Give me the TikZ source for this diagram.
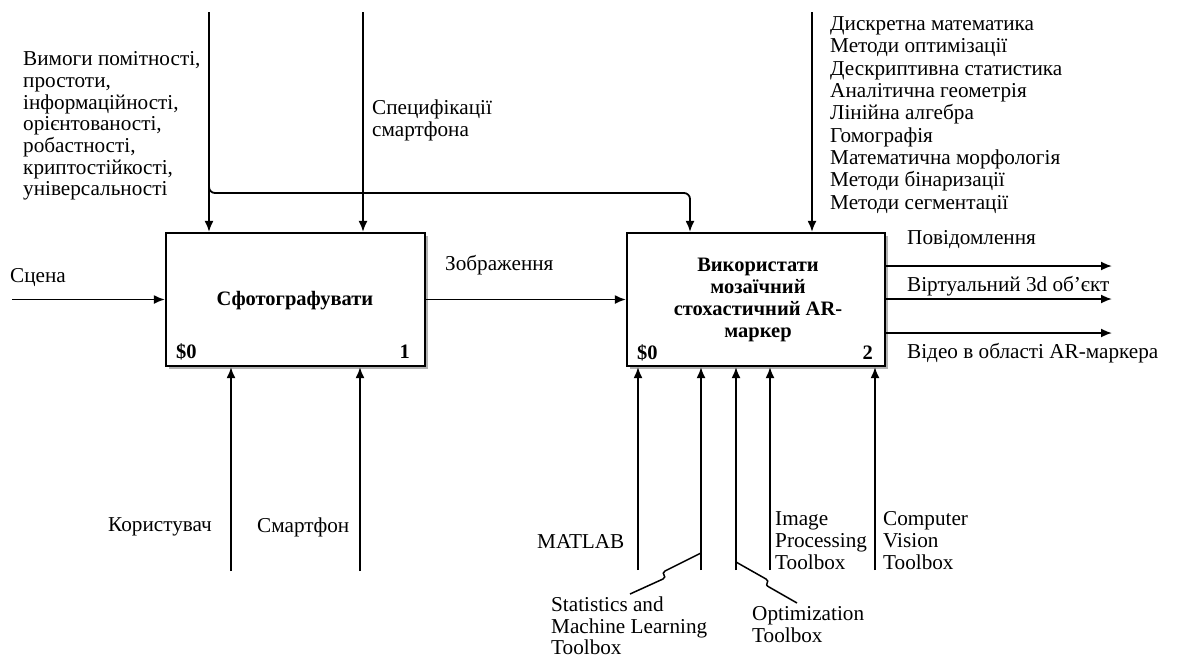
\documentclass[tikz,border=0pt]{standalone}
\usepackage{fontspec}
\setmainfont{Liberation Serif}
\usetikzlibrary{arrows.meta,shadows}
\begin{document}
\begin{tikzpicture}[x=1pt,y=-1pt,
  box/.style={draw, line width=2.2pt, fill=white, inner sep=0pt,
    general shadow={fill=black!30, shadow xshift=2.5pt, shadow yshift=-2.5pt}},
  arr/.style={line width=1.8pt, -{Latex[length=11pt,width=9pt]}},
  ln/.style={line width=1.5pt},
  lbl/.style={font=\fontsize{21.2}{22}\selectfont, inner sep=0pt, align=left},
  ttl/.style={font=\bfseries\fontsize{20.5}{22}\selectfont, inner sep=0pt, align=center}
]
\useasboundingbox (0,0) rectangle (1198,662);

% boxes
\node[box, minimum width=259pt, minimum height=133pt] (b1) at (295.5,299.5) {};
\node[box, minimum width=258pt, minimum height=133pt] (b2) at (756,299.5) {};
\node[ttl] (t1) at (295,301) {Сфотографувати};
\node[ttl] (t2) at (758,300) {Використати\\мозаїчний\\стохастичний AR-\\маркер};
\node[ttl, anchor=west] (s1) at (176,352) {\$0};
\node[ttl, anchor=east] (n1) at (410,352) {1};
\node[ttl, anchor=west] (s2) at (637,353) {\$0};
\node[ttl, anchor=east] (n2) at (873,353) {2};

% coordinates of free ends
\coordinate (in1) at (12,299.5);
\coordinate (c1) at (209,12);
\coordinate (c2) at (363,12);
\coordinate (c3) at (812,12);
\coordinate (j1) at (209,185);
\coordinate (j2) at (690,193);
\coordinate (o1) at (1112,266);
\coordinate (o2) at (1112,299);
\coordinate (o3) at (1112,333);
\coordinate (m1) at (231,571);
\coordinate (m2) at (360,571);
\coordinate (m3) at (638,570);
\coordinate (m4) at (701,570);
\coordinate (m5) at (736,570);
\coordinate (m6) at (770,570);
\coordinate (m7) at (875,570);

% inputs / outputs
\draw[arr] (in1) -- (b1.west);
\draw[arr] (b1.east) -- (b2.west);
\draw[arr] (o1 -| b2.east) -- (o1);
\draw[arr] (o2 -| b2.east) -- (o2);
\draw[arr] (o3 -| b2.east) -- (o3);

% controls
\draw[arr] (c1) -- (c1 |- b1.north);
\draw[arr] (c2) -- (c2 |- b1.north);
\draw[arr] (c3) -- (c3 |- b2.north);
\draw[arr, rounded corners=6pt] (j1) |- (j2) -- (j2 |- b2.north);

% mechanisms
\foreach \m in {m1,m2}{\draw[arr] (\m) -- (\m |- b1.south);}
\foreach \m in {m3,m4,m5,m6,m7}{\draw[arr] (\m) -- (\m |- b2.south);}

% squiggles
\coordinate (q1) at (701,553);
\coordinate (q2) at (736,562);
\draw[ln] (q1) -- (665,571) .. controls (660,574) and (668,576) .. (663,579) -- (630,594);
\draw[ln] (q2) -- (766,579) .. controls (771,582) and (763,584) .. (769,587) -- (797,603);

% labels
\node[lbl, anchor=west] (lscena) at (10,278) {Сцена};
\node[lbl, anchor=west] (lzobr) at (445,265) {Зображення};
\node[lbl, anchor=west] (lspec) at (372,120.5) {Специфікації\\смартфона};
\node[lbl, anchor=west, font=\fontsize{21.2}{21.7}\selectfont] (lvym) at (23,126) {Вимоги помітності,\\простоти,\\інформаційності,\\орієнтованості,\\робастності,\\криптостійкості,\\універсальності};
\node[lbl, anchor=west, font=\fontsize{21.2}{22.3}\selectfont] (lmath) at (830,115) {Дискретна математика\\Методи оптимізації\\Дескриптивна статистика\\Аналітична геометрія\\Лінійна алгебра\\Гомографія\\Математична морфологія\\Методи бінаризації\\Методи сегментації};
\node[lbl, anchor=west] (lpov) at (907,240) {Повідомлення};
\node[lbl, anchor=west] (lvirt) at (907,286) {Віртуальний 3d об'єкт};
\node[lbl, anchor=west] (lvid) at (907,353) {Відео в області AR-маркера};
\node[lbl, anchor=east] (lkor) at (212,527) {Користувач};
\node[lbl, anchor=west] (lsmart) at (257,527) {Смартфон};
\node[lbl, anchor=west] (lmat) at (537,542) {MATLAB};
\node[lbl, anchor=west] (limg) at (775,541) {Image\\Processing\\Toolbox};
\node[lbl, anchor=west] (lcv) at (883,541) {Computer\\Vision\\Toolbox};
\node[lbl, anchor=west, font=\fontsize{21.2}{21.5}\selectfont] (lstat) at (551,626) {Statistics and\\Machine Learning\\Toolbox};
\node[lbl, anchor=west] (lopt) at (752,624.5) {Optimization\\Toolbox};
\end{tikzpicture}
\end{document}
